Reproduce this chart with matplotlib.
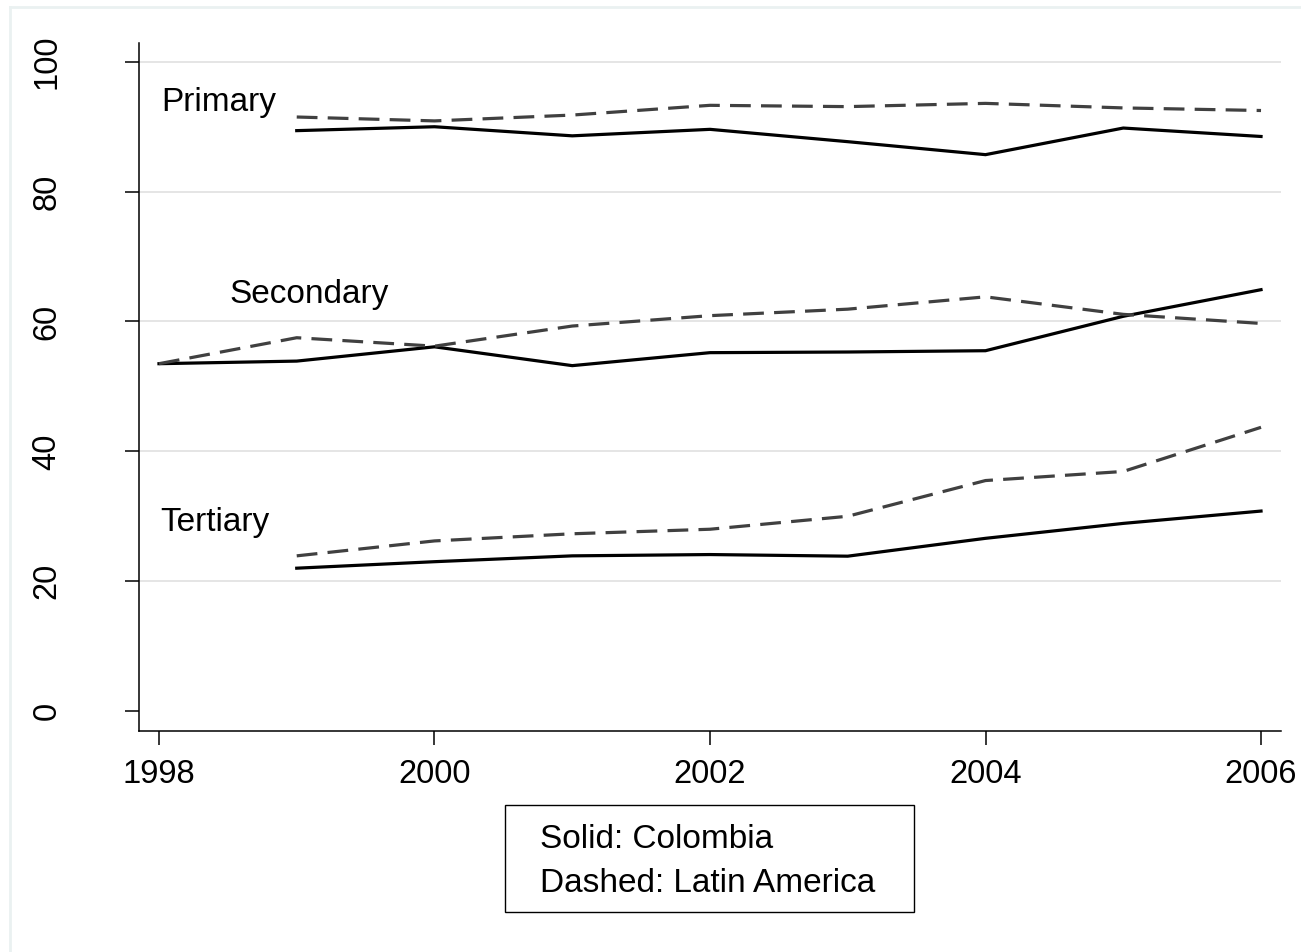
import matplotlib
matplotlib.use("Agg")
import matplotlib.pyplot as plt
from matplotlib.lines import Line2D
from matplotlib.patches import Rectangle

plt.rcParams["font.family"] = ["Liberation Sans", "DejaVu Sans"]

years = [1998, 1999, 2000, 2001, 2002, 2003, 2004, 2005, 2006]
years_short = years[1:]

primary_col = [89.4, 90.0, 88.6, 89.6, 87.7, 85.7, 89.8, 88.5]
primary_la = [91.5, 90.9, 91.8, 93.3, 93.1, 93.6, 92.9, 92.5]
secondary_col = [53.5, 53.9, 56.1, 53.2, 55.2, 55.3, 55.5, 60.8, 64.9]
secondary_la = [53.5, 57.5, 56.2, 59.3, 60.9, 61.9, 63.8, 61.1, 59.7]
tertiary_col = [22.0, 23.0, 23.9, 24.1, 23.85, 26.6, 28.9, 30.8]
tertiary_la = [23.9, 26.2, 27.3, 28.0, 30.0, 35.5, 36.9, 43.7]

level_labels = ["Primary", "Secondary", "Tertiary"]
label_pos = [(1998.02, 93.8), (1998.51, 64.1), (1998.01, 29.0)]
yticks = [0, 20, 40, 60, 80, 100]
xticks = [1998, 2000, 2002, 2004, 2006]
legend_lines = ["Solid: Colombia", "Dashed: Latin America"]

FS = 24
W, H = 1301, 952
fig = plt.figure(figsize=(W / 100, H / 100), dpi=100)
ax = fig.add_axes([139 / W, 1 - 731 / H, (1281 - 139) / W, (731 - 43) / H])

solid = dict(color="black", lw=2.3, solid_joinstyle="miter")
dashed = dict(color="#404040", lw=2.3, dashes=(6.5, 3.2))

ax.plot(years_short, primary_col, **solid)
ax.plot(years_short, primary_la, **dashed)
ax.plot(years, secondary_col, **solid)
ax.plot(years, secondary_la, **dashed)
ax.plot(years_short, tertiary_col, **solid)
ax.plot(years_short, tertiary_la, **dashed)

for lab, (x, y) in zip(level_labels, label_pos):
    ax.text(x, y, lab, fontsize=FS, ha="left", va="center")

ax.set_xlim(1997.855, 2006.145)
ax.set_ylim(-3.08, 102.9)
ax.set_xticks(xticks)
ax.set_yticks(yticks)
for t in yticks[1:]:
    ax.axhline(t, color="#e0e0e0", lw=1.2, zorder=0)

ax.spines["top"].set_visible(False)
ax.spines["right"].set_visible(False)
for s in ["left", "bottom"]:
    ax.spines[s].set_linewidth(1.1)

ax.tick_params(axis="both", length=10, width=1.1, labelsize=FS - 0.5)
ax.tick_params(axis="x", pad=10)
ax.tick_params(axis="y", pad=45)
for lbl in ax.get_yticklabels():
    lbl.set_rotation(90)
    lbl.set_va("center")

# legend note box
fig.patches.append(Rectangle((505 / W, 1 - 912 / H), (914 - 505) / W, (912 - 805) / H,
                             transform=fig.transFigure, fill=False,
                             edgecolor="black", lw=1.0))
fig.text(540 / W, 1 - 839 / H, legend_lines[0], fontsize=FS, va="center")
fig.text(540 / W, 1 - 884 / H, legend_lines[1], fontsize=FS, va="center")

# faint outer frame
fig.lines.append(Line2D([10 / W, 10 / W], [0, 1 - 7 / H], transform=fig.transFigure,
                        color="#eaf1f1", lw=2))
fig.lines.append(Line2D([10 / W, 1], [1 - 7 / H, 1 - 7 / H], transform=fig.transFigure,
                        color="#eaf1f1", lw=2))

fig.savefig("out.png", dpi=100)
